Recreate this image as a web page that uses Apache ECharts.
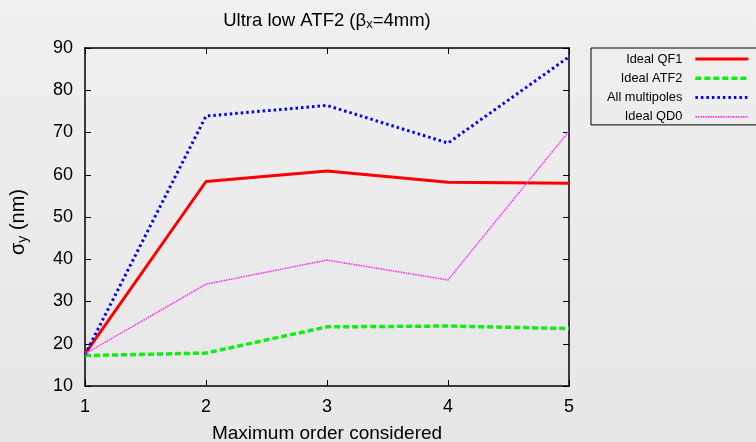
<!DOCTYPE html>
<html>
<head>
<meta charset="utf-8">
<script src="https://cdn.jsdelivr.net/npm/echarts@6/dist/echarts.min.js"></script>
<style>
  html, body { margin: 0; padding: 0; }
  #chart { width: 756px; height: 442px; }
</style>
</head>
<body>
<div id="chart"></div>
<script>
// Maximum multipole order considered
const orders = [1, 2, 3, 4, 5];
// Vertical beam size sigma_y (nm) for each configuration
const idealQF1 = [17.6, 58.4, 60.9, 58.2, 58.0];
const idealATF2 = [17.2, 17.8, 24.0, 24.2, 23.6];
const allMultipoles = [17.4, 73.9, 76.4, 67.5, 87.9];
const idealQD0 = [17.6, 34.1, 39.8, 35.1, 70.3];
const yTicks = [10, 20, 30, 40, 50, 60, 70, 80, 90];

const pairs = arr => orders.map((o, i) => [o, arr[i]]);

const chart = echarts.init(document.getElementById('chart'));
const font = 'Liberation Sans, Arial, sans-serif';

const axisCommon = {
  axisLine: { show: true, lineStyle: { color: '#000', width: 1.5 } },
  axisTick: { show: true, inside: true, length: 6, lineStyle: { color: '#000', width: 1 } },
  splitLine: { show: false }
};

chart.setOption({
  backgroundColor: {
    type: 'linear', x: 0, y: 0, x2: 0, y2: 1,
    colorStops: [{ offset: 0, color: '#f0f0f0' }, { offset: 1, color: '#e6e6e6' }]
  },
  animation: false,
  textStyle: { fontFamily: font },
  title: {
    text: '{t|Ultra low ATF2 (β}{s|x}{t|=4mm)}',
    left: 322, top: 6, textAlign: 'center',
    textStyle: {
      fontWeight: 'normal',
      rich: {
        t: { fontSize: 18.5, color: '#000', fontFamily: font, fontWeight: 'normal' },
        s: { fontSize: 13, color: '#000', fontFamily: font, fontWeight: 'normal', verticalAlign: 'bottom', padding: [7, 0, 0, 0] }
      }
    }
  },
  grid: { left: 85, right: 187, top: 48, bottom: 56, containLabel: false, outerBoundsMode: 'none' },
  legend: {
    orient: 'vertical',
    left: 591, top: 48,
    align: 'right',
    itemWidth: 53, itemHeight: 14, itemGap: 6.3,
    padding: [4.5, 9, 1.5, 16],
    borderColor: '#000', borderWidth: 1,
    itemStyle: { opacity: 0 },
    lineStyle: { width: 'inherit', type: 'inherit' },
    textStyle: { fontSize: 12.8, color: '#000', fontFamily: font, padding: [0, 8, 0, 0] },
    data: ['Ideal QF1', 'Ideal ATF2', 'All multipoles', 'Ideal QD0']
  },
  xAxis: [
    Object.assign({
      type: 'value', min: 1, max: 5, interval: 1,
      name: 'Maximum order considered', nameLocation: 'middle', nameGap: 38,
      nameTextStyle: { fontSize: 19, color: '#000', fontFamily: font },
      axisLabel: { fontSize: 18, color: '#000', margin: 12, fontFamily: font, showMinLabel: true, showMaxLabel: true }
    }, axisCommon),
    Object.assign({
      type: 'value', min: 1, max: 5, interval: 1, position: 'top',
      axisLabel: { show: false }
    }, axisCommon)
  ],
  yAxis: [
    Object.assign({
      type: 'value', min: yTicks[0], max: yTicks[yTicks.length - 1], interval: 10,
      name: '{t|σ}{s|y}{t| (nm)}', nameLocation: 'middle', nameGap: 55, nameRotate: 90,
      nameTextStyle: {
        padding: [0, 10, 0, 0],
        rich: {
          t: { fontSize: 20, color: '#000', fontFamily: font },
          s: { fontSize: 14, color: '#000', fontFamily: font, verticalAlign: 'bottom', padding: [9, 0, 0, 0] }
        }
      },
      axisLabel: { fontSize: 18, color: '#000', margin: 12, fontFamily: font }
    }, axisCommon),
    Object.assign({
      type: 'value', min: yTicks[0], max: yTicks[yTicks.length - 1], interval: 10, position: 'right',
      axisLabel: { show: false }
    }, axisCommon)
  ],
  series: [
    {
      name: 'Ideal QF1', type: 'line', data: pairs(idealQF1), showSymbol: false, symbol: 'none',
      color: '#ff0000', lineStyle: { color: '#ff0000', width: 3 }
    },
    {
      name: 'Ideal ATF2', type: 'line', data: pairs(idealATF2), showSymbol: false, symbol: 'none',
      color: '#00ee00', lineStyle: { color: '#11ee11', width: 3.5, type: [6, 3] }
    },
    {
      name: 'All multipoles', type: 'line', data: pairs(allMultipoles), showSymbol: false, symbol: 'none',
      color: '#0000ff', lineStyle: { color: '#0000ff', width: 3, type: [2.5, 3] }
    },
    {
      name: 'Ideal QD0', type: 'line', data: pairs(idealQD0), showSymbol: false, symbol: 'none',
      color: '#ff00ff', lineStyle: { color: '#ff33ff', width: 1.6, type: [1.5, 1] }
    }
  ]
});
</script>
</body>
</html>
